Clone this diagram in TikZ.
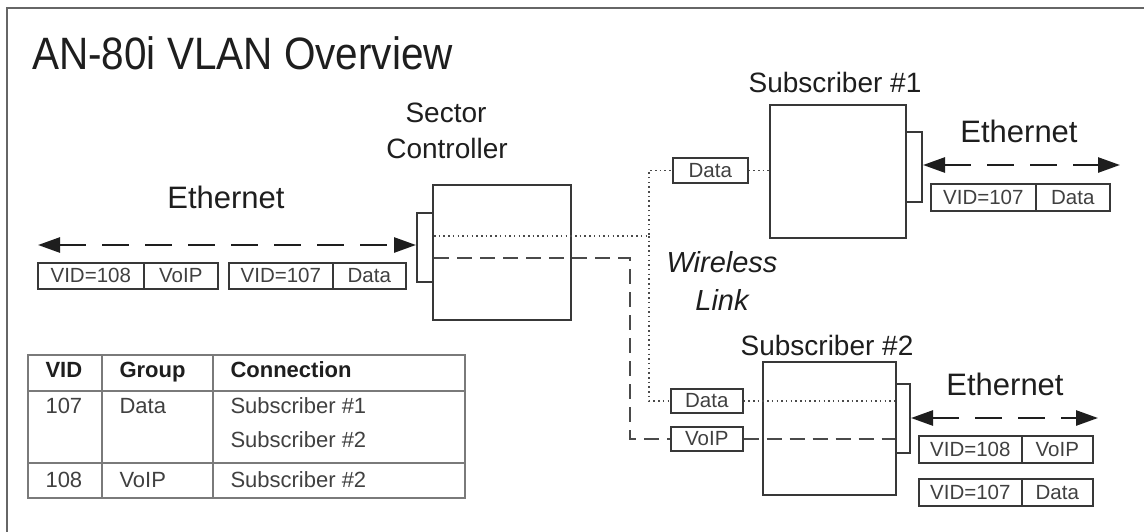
\documentclass[tikz,border=0pt]{standalone}
\usepackage{fontspec}
\setmainfont{Liberation Sans}
\usetikzlibrary{arrows.meta,positioning}
\definecolor{ink}{HTML}{1E1E1E}
\definecolor{boxline}{HTML}{383838}
\definecolor{wire}{HTML}{4A4A4A}
\definecolor{frame}{HTML}{666666}
\definecolor{tabline}{HTML}{7A7A7A}
\tikzset{
  devbox/.style={draw=boxline, line width=2pt, inner sep=0pt, fill=white},
  tagbox/.style={draw=boxline, line width=1.6pt, inner sep=0pt, anchor=north west,
     text=ink!85, font=\fontsize{20.5}{22}\selectfont},
  lbl/.style={anchor=base, text=ink, font=\fontsize{28}{30}\selectfont},
  ethlbl/.style={anchor=base, text=ink, font=\fontsize{31}{33}\selectfont},
  dotwire/.style={draw=wire, line width=1.6pt, dash pattern=on 1.5pt off 3.2pt},
  dashwire/.style={draw=wire, line width=2.2pt, dash pattern=on 15pt off 8pt},
  ethwire/.style={draw=ink, line width=2.6pt, dash pattern=on 27pt off 16pt,
     {Triangle[length=22pt,width=15pt]}-{Triangle[length=22pt,width=15pt]}},
  tabtxt/.style={anchor=base west, text=ink!85, font=\fontsize{22}{24}\selectfont},
  tabhead/.style={anchor=base west, text=ink, font=\fontsize{22}{24}\selectfont\bfseries},
}
\begin{document}
\begin{tikzpicture}[x=1pt,y=-1pt]
\useasboundingbox (0,0) rectangle (1144,531);
\fill[white] (0,0) rectangle (1144,531);
% frame
\draw[frame, line width=2pt] (1150,8) -- (7,8) -- (7,540);
% title
\node[anchor=base west, text=ink, font=\fontsize{40.5}{44}\selectfont, inner sep=0pt] (title) at (32,69) {\scalebox{1}[1.12]{AN-80i VLAN Overview}};

% devices
\node[devbox, minimum width=138pt, minimum height=135pt] (sc) at (502,252.5) {};
\node[devbox, minimum width=16pt, minimum height=69pt] (scport) at (425,247.5) {};
\node[devbox, minimum width=136pt, minimum height=133pt] (s1) at (838,171.5) {};
\node[devbox, minimum width=16pt, minimum height=70pt] (s1port) at (914,167) {};
\node[devbox, minimum width=133pt, minimum height=133pt] (s2) at (829.5,428.5) {};
\node[devbox, minimum width=14pt, minimum height=69pt] (s2port) at (903,418.5) {};

% device labels
\node[lbl] (sclbl1) at (446,122) {Sector};
\node[lbl] (sclbl2) at (447,158) {Controller};
\node[lbl] (s1lbl) at (835,92) {Subscriber \#1};
\node[lbl] (s2lbl) at (827,355) {Subscriber \#2};
\node[lbl, font=\fontsize{29}{31}\selectfont\itshape] (wl1) at (722,272) {Wireless};
\node[lbl, font=\fontsize{29}{31}\selectfont\itshape] (wl2) at (722,310) {Link};

% small tags on the wireless side
\node[tagbox, minimum width=75pt, minimum height=25pt] (d1) at (672,157) {Data};
\node[tagbox, minimum width=72pt, minimum height=24pt] (d2) at (670,388) {Data};
\node[tagbox, minimum width=72pt, minimum height=24pt] (v2) at (670,426) {VoIP};

% wireless connectors
\coordinate (dotA) at (434,236);
\coordinate (dotB) at (649,236);
\coordinate (dashA) at (434,258);
\coordinate (dashB) at (630,258);
\draw[dotwire] (dotA) -- (dotB) |- (d1.west);
\draw[dotwire] (d1.east) -- (s1.west |- d1.east);
\draw[dotwire] (dotB) |- (d2.west);
\draw[dotwire] (d2.east) -- (s2port.west |- d2.east);
\draw[dashwire] (dashA) -- (dashB) |- (v2.west);
\draw[dashwire] (v2.east) -- (s2port.west |- v2.east);

% Ethernet (left)
\node[ethlbl] (ethL) at (226,208) {Ethernet};
\coordinate (eL) at (38,245);
\draw[ethwire] (eL) -- (scport.west |- eL);
\node[tagbox, minimum width=106pt, minimum height=26pt] (l1a) at (37,262) {VID=108};
\node[tagbox, minimum width=74pt, minimum height=26pt] (l1b) at (143,262) {VoIP};
\node[tagbox, minimum width=104pt, minimum height=26pt] (l2a) at (228,262) {VID=107};
\node[tagbox, minimum width=73pt, minimum height=26pt] (l2b) at (332,262) {Data};

% Ethernet (subscriber 1)
\node[ethlbl] (ethR1) at (1019,142) {Ethernet};
\coordinate (eR1) at (1120,165);
\draw[ethwire] (s1port.east |- eR1) -- (eR1);
\node[tagbox, minimum width=105pt, minimum height=27pt] (r1a) at (930,183) {VID=107};
\node[tagbox, minimum width=74pt, minimum height=27pt] (r1b) at (1035,183) {Data};

% Ethernet (subscriber 2)
\node[ethlbl] (ethR2) at (1005,395) {Ethernet};
\coordinate (eR2) at (1098,418);
\draw[ethwire] (s2port.east |- eR2) -- (eR2);
\node[tagbox, minimum width=103pt, minimum height=27pt] (r2a) at (918,435) {VID=108};
\node[tagbox, minimum width=71pt, minimum height=27pt] (r2b) at (1021,435) {VoIP};
\node[tagbox, minimum width=103pt, minimum height=27pt] (r3a) at (918,478) {VID=107};
\node[tagbox, minimum width=71pt, minimum height=27pt] (r3b) at (1021,478) {Data};

% table
\draw[tabline, line width=1.2pt] (28,355) rectangle (465,498);
\draw[tabline, line width=1.2pt] (28,391) -- (465,391);
\draw[tabline, line width=1.2pt] (28,463) -- (465,463);
\draw[tabline, line width=1.2pt] (102,355) -- (102,498);
\draw[tabline, line width=1.2pt] (213,355) -- (213,498);
\node[tabhead] (th1) at (42,377) {VID};
\node[tabhead] (th2) at (116,377) {Group};
\node[tabhead] (th3) at (227,377) {Connection};
\node[tabtxt] (t11) at (42,413) {107};
\node[tabtxt] (t12) at (116,413) {Data};
\node[tabtxt] (t13) at (227,413) {Subscriber \#1};
\node[tabtxt] (t14) at (227,447) {Subscriber \#2};
\node[tabtxt] (t21) at (42,487) {108};
\node[tabtxt] (t22) at (116,487) {VoIP};
\node[tabtxt] (t23) at (227,487) {Subscriber \#2};
\end{tikzpicture}
\end{document}
